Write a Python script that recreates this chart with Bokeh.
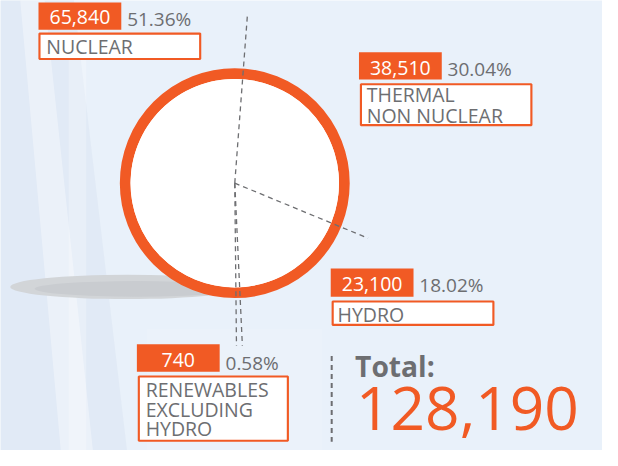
import math
from bokeh.plotting import figure
from bokeh.embed import file_html
from bokeh.resources import INLINE
from bokeh.core.properties import value
from bokeh.models import Range1d

# ---------------- data ----------------
categories = ["NUCLEAR", "THERMAL\nNON NUCLEAR", "HYDRO", "RENEWABLES\nEXCLUDING\nHYDRO"]
values = [65840, 38510, 23100, 740]
percent_labels = ["51.36%", "30.04%", "18.02%", "0.58%"]
total_title = "Total:"

# ---------------- style / layout ----------------
ORANGE = "#f15a24"
GRAY = "#6d6e71"
FONT = "Open Sans"
W, H = 602, 450
S = W / 618.0                      # px per image unit
IMG_H = 466.0
TOP = 3.0                          # first image row shown
def Y(y):                          # image y (down) -> data y (up)
    return IMG_H - y
def fs(px):
    return f"{px * S:.1f}px"

CX, CY = 240.5, 190.5              # pie centre
R_MID, RING_W = 112.5, 11
START_DEG = 4.3                    # clockwise from 12 o'clock
pie_order = [1, 2, 3, 0]           # clockwise: thermal, hydro, renewables, nuclear
line_len = {1: 172, 2: 148, 3: 167, 0: 167}   # dashed radius length at the START of each slice

# label layout: value box, value text centre y, pct x / centre y, name box, name x, name line centres
layout = {
    0: dict(vb=(39, 124, 5, 33), vy=20, px=130, py=22.5, nb=(39, 206, 36, 64), nx=47, ny=[50]),
    1: dict(vb=(368, 453, 56, 84), vy=72.5, px=459, py=73, nb=(369, 546, 88, 132), nx=376, ny=[100, 121.5]),
    2: dict(vb=(339, 424, 278, 307), vy=294, px=430, py=295, nb=(340, 507, 311, 337), nx=346, ny=[325]),
    3: dict(vb=(140, 225, 356, 384), vy=372.5, px=231, py=375, nb=(141, 296, 388, 456), nx=149, ny=[402.5, 422.5, 442.5]),
}

p = figure(width=W, height=H, output_backend="svg", toolbar_location=None,
           x_range=Range1d(0, 618), y_range=Range1d(IMG_H - (TOP + H / S), IMG_H - TOP),
           min_border=0)
p.axis.visible = False
p.grid.visible = False
p.outline_line_color = None
BG = "#e9f1fa"
p.background_fill_color = BG
p.border_fill_color = BG

# soft background texture on the left
p.patch(x=[0, 75, 130, 0], y=[Y(0), Y(0), Y(466), Y(466)], fill_color="#d9e4f1", fill_alpha=0.5, line_color=None)
p.patch(x=[20, 45, 95, 62], y=[Y(0), Y(0), Y(466), Y(466)], fill_color="white", fill_alpha=0.35, line_color=None)
p.quad(left=[70], right=[88], top=[Y(60)], bottom=[Y(466)], fill_color="white", fill_alpha=0.25, line_color=None)
p.quad(left=[150], right=[330], top=[Y(340)], bottom=[Y(466)], fill_color="white", fill_alpha=0.1, line_color=None)

# shadow under the pie
p.ellipse(x=[130], y=[Y(297)], width=[240], height=[25], fill_color="#d2d5d8", line_color=None)
p.ellipse(x=[140], y=[Y(299)], width=[210], height=[16], fill_color="#c9ccd0", line_color=None)

# pie ring
p.ellipse(x=[CX], y=[Y(CY)], width=[2 * R_MID], height=[2 * R_MID],
          fill_color="white", line_color=ORANGE, line_width=RING_W * S)

total = sum(values)
theta = START_DEG
bounds = []
for i in pie_order:
    sweep = values[i] / total * 360.0
    t0, t1 = theta, theta + sweep
    p.wedge(x=[CX], y=[Y(CY)], radius=[R_MID - RING_W / 2],
            start_angle=[math.radians(90 - t1)], end_angle=[math.radians(90 - t0)],
            fill_color="white", line_color=None)
    bounds.append((t0, line_len[i]))
    theta = t1

for t, L in bounds:
    a = math.radians(t)
    p.segment(x0=[CX], y0=[Y(CY)], x1=[CX + L * math.sin(a)], y1=[Y(CY - L * math.cos(a))],
              line_color=GRAY, line_width=1.3, line_dash="5 4")

# labels
for i, name in enumerate(categories):
    lay = layout[i]
    x0, x1, y0, y1 = lay["vb"]
    p.quad(left=[x0], right=[x1], top=[Y(y0)], bottom=[Y(y1)], fill_color=ORANGE, line_color=None)
    p.text(x=[(x0 + x1) / 2], y=[Y(lay["vy"])], text=[f"{values[i]:,}"],
           text_font=value(FONT), text_font_size=fs(20), text_color="white",
           text_align="center", text_baseline="middle")
    p.text(x=[lay["px"]], y=[Y(lay["py"])], text=[percent_labels[i]],
           text_font=value(FONT), text_font_size=fs(19.5), text_color=GRAY,
           text_align="left", text_baseline="middle")
    nx0, nx1, ny0, ny1 = lay["nb"]
    p.quad(left=[nx0 + 1], right=[nx1 - 1], top=[Y(ny0 + 1)], bottom=[Y(ny1 - 1)],
           fill_color="white", line_color=ORANGE, line_width=2.2 * S)
    for line, yc in zip(name.split("\n"), lay["ny"]):
        p.text(x=[lay["nx"]], y=[Y(yc)], text=[line],
               text_font=value(FONT), text_font_size=fs(20), text_color=GRAY,
               text_align="left", text_baseline="middle")

# total
p.segment(x0=[340], y0=[Y(368)], x1=[340], y1=[Y(456)], line_color=GRAY, line_width=2, line_dash="5 4")
p.text(x=[364], y=[Y(378)], text=[total_title], text_font=value(FONT), text_font_size=fs(29),
       text_font_style="bold", text_color=GRAY, text_baseline="middle")
p.text(x=[365], y=[Y(422)], text=[f"{total:,}"], text_font=value(FONT), text_font_size=fs(62),
       text_color=ORANGE, text_baseline="middle")

open("out.html", "w").write(file_html(p, INLINE))
